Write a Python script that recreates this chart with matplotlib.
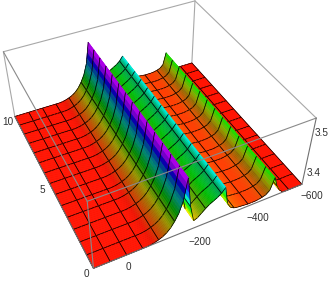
import numpy as np
import matplotlib
matplotlib.use("Agg")
import matplotlib.pyplot as plt
from matplotlib.collections import PolyCollection
from matplotlib.colors import hsv_to_rgb

# surface is constant along y, so one profile z(x) is enough
x_vals = np.arange(100, -612.5, -12.5)
z_vals = [3.380, 3.380, 3.380, 3.380, 3.380, 3.380, 3.380, 3.380, 3.380, 3.380,
          3.380, 3.380, 3.380, 3.380, 3.381, 3.383, 3.386, 3.390, 3.396, 3.405,
          3.418, 3.435, 3.462, 3.514, 3.440, 3.400, 3.404, 3.412, 3.420, 3.427,
          3.432, 3.437, 3.444, 3.455, 3.410, 3.396, 3.391, 3.389, 3.388, 3.387,
          3.386, 3.386, 3.386, 3.387, 3.389, 3.392, 3.400, 3.430, 3.405, 3.390,
          3.382, 3.380, 3.380, 3.380, 3.380, 3.380, 3.380]
y_vals = np.linspace(0, 10, 15)
x_ticks = [0, -200, -400, -600]
y_ticks = [0, 5, 10]
z_ticks = [3.4, 3.5]

x_lim = (100, -600)
y_lim = (0, 10)
z_lim = (3.38, 3.545)

# box corners as they sit in the picture, used to fit the perspective camera
corners_3d = [(x_lim[i], y_lim[j], z_lim[k]) for k in (0, 1) for (i, j) in ((0, 0), (1, 0), (1, 1), (0, 1))]
corners_px = [(93, 268), (302, 185), (192, 63), (15, 116), (88, 202), (316, 117), (195, 1), (3, 52)]


def fit_camera(pts3, pts2):
    rows = []
    for (x, y, z), (u, v) in zip(pts3, pts2):
        x, y, z = x / 700, y / 10, z - 3.4
        rows.append([x, y, z, 1, 0, 0, 0, 0, -u * x, -u * y, -u * z, -u])
        rows.append([0, 0, 0, 0, x, y, z, 1, -v * x, -v * y, -v * z, -v])
    return np.linalg.svd(np.array(rows))[2][-1].reshape(3, 4)


P = fit_camera(corners_3d, corners_px)


def project(x, y, z):
    h = P @ np.array([x / 700, y / 10, z - 3.4, 1.0])
    return h[0] / h[2], h[1] / h[2]


def shade_at(slope):
    m = (abs(slope) / 0.0004) ** 2
    k = m / (1 + m)
    return 1 - 0.5 * k if slope > 0 else 1 - 0.05 * k


cam = np.linalg.svd(P)[2][-1]
cam_x, cam_y = cam[0] / cam[3] * 700, cam[1] / cam[3] * 10

z_vals = np.array(z_vals)
node_shade = [shade_at(s) for s in np.gradient(z_vals) / 12.5]
n_sub = 4

polys, faces, edges, widths = [], [], [], []
y_cells = sorted(range(len(y_vals) - 1), key=lambda j: -abs((y_vals[j] + y_vals[j + 1]) / 2 - cam_y))
x_cells = sorted(range(len(x_vals) - 1), key=lambda i: -abs((x_vals[i] + x_vals[i + 1]) / 2 - cam_x))
for j in y_cells:
    y0, y1 = y_vals[j], y_vals[j + 1]
    for i in x_cells:
        # split each cell in x only to get smooth colour across it
        subs = range(n_sub) if x_vals[i] - cam_x > 0 else range(n_sub - 1, -1, -1)
        for k in subs:
            t0, t1 = k / n_sub, (k + 1) / n_sub
            xa = x_vals[i] + (x_vals[i + 1] - x_vals[i]) * t0
            xb = x_vals[i] + (x_vals[i + 1] - x_vals[i]) * t1
            za = z_vals[i] + (z_vals[i + 1] - z_vals[i]) * t0
            zb = z_vals[i] + (z_vals[i + 1] - z_vals[i]) * t1
            tm = (t0 + t1) / 2
            zm = (za + zb) / 2
            hue = np.clip((zm - z_lim[0]) / 0.15, 0.012, 0.79)
            val = node_shade[i] + (node_shade[i + 1] - node_shade[i]) * tm
            col = hsv_to_rgb([hue, 1.0, val])
            polys.append([project(xa, y0, za), project(xb, y0, zb), project(xb, y1, zb), project(xa, y1, za)])
            faces.append(col)
            edges.append(col)
            widths.append(0.4)
        # mesh lines on this cell
        x0, x1 = x_vals[i], x_vals[i + 1]
        z0, z1 = z_vals[i], z_vals[i + 1]
        seg = [(project(x0, y0, z0), project(x1, y0, z1)), (project(x0, y1, z0), project(x1, y1, z1))]
        if i % 4 == 0:
            seg.append((project(x0, y0, z0), project(x0, y1, z0)))
        if (i + 1) % 4 == 0:
            seg.append((project(x1, y0, z1), project(x1, y1, z1)))
        for s in seg:
            polys.append(list(s))
            faces.append((0, 0, 0, 0))
            edges.append((0, 0, 0, 1))
            widths.append(0.5)

fig = plt.figure(figsize=(3.32, 2.82), dpi=100)
ax = fig.add_axes([0, 0, 1, 1])
ax.set_xlim(0, 332)
ax.set_ylim(282, 0)
ax.axis("off")

ax.add_collection(PolyCollection(polys, facecolors=faces, edgecolors=edges, linewidths=widths, zorder=2))


def box_line(a, b, color, z):
    pa, pb = project(*a), project(*b)
    ax.plot([pa[0], pb[0]], [pa[1], pb[1]], color=color, lw=0.8, zorder=z, solid_capstyle="round")


x0, x1 = x_lim
y0, y1 = y_lim
z0, z1 = z_lim
for a, b in [((x1, y1, z1), (x0, y1, z1)), ((x1, y1, z1), (x1, y0, z1)), ((x1, y1, z1), (x1, y1, z0)),
             ((x0, y1, z1), (x0, y1, z0))]:
    box_line(a, b, "#a8a8a8", 1)
for a, b in [((x0, y0, z1), (x0, y1, z1)), ((x0, y0, z1), (x1, y0, z1)), ((x0, y0, z1), (x0, y0, z0))]:
    box_line(a, b, "#8a8a8a", 3)
for a, b in [((x0, y0, z0), (x1, y0, z0)), ((x0, y0, z0), (x0, y1, z0)), ((x1, y0, z0), (x1, y0, z1))]:
    box_line(a, b, "#707070", 3)

font = dict(fontsize=7.2, family="Liberation Sans", color="#303030", va="center", zorder=4)
for t in x_ticks:
    px, py = project(t, 0, z_lim[0])
    ax.text(px - 1, py + 12, str(t).replace("-", "\u2212"), ha="left", **font)
for t in y_ticks:
    px, py = project(x_lim[0], t, z_lim[0])
    ax.text(px - 7, py + 6, str(t), ha="center", **font)
for t in z_ticks:
    px, py = project(x_lim[1], 0, t)
    ax.text(px + 10, py - 4, str(t), ha="center", **font)

fig.savefig("out.png", dpi=100)
